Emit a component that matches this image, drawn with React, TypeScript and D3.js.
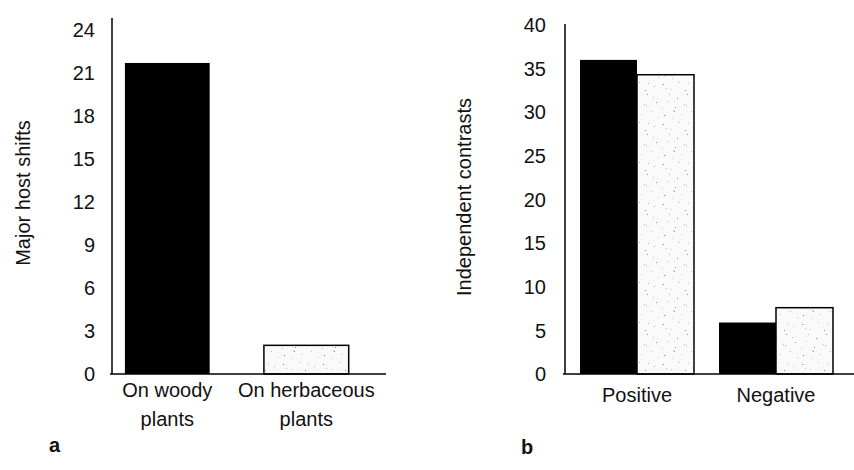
import React from "react";
import { scaleLinear, scaleBand } from "d3";

const hostCats = ["On woody plants", "On herbaceous plants"];
const hostValues = [21.7, 2.0];
const hostTicks = [0, 3, 6, 9, 12, 15, 18, 21, 24];

const contrastCats = ["Positive", "Negative"];
const contrastSeries = ["woody", "herbaceous"];
const woodyContrasts = [36.0, 5.9];
const herbContrasts = [34.3, 7.6];
const contrastTicks = [0, 5, 10, 15, 20, 25, 30, 35, 40];

const FONT = "'Liberation Sans', Arial, sans-serif";

// fixed speckle positions for the stippled fill
const dots = [
  [3, 4], [11, 9], [19, 2], [27, 14], [34, 6], [7, 21], [15, 27], [24, 24],
  [31, 31], [4, 35], [12, 38], [21, 34], [36, 22], [9, 14], [28, 3], [17, 18],
  [38, 37], [2, 28], [25, 10], [33, 17], [13, 30], [14, 31], [26, 25], [6, 8],
];

function Stipple() {
  return (
    <pattern id="stipple" width="40" height="40" patternUnits="userSpaceOnUse">
      <rect width="40" height="40" fill="#fafafa" />
      {dots.map(([x, y], i) => (
        <rect key={i} x={x} y={y} width="1" height="1" fill={i % 3 === 0 ? "#8e8e8e" : "#bdbdbd"} />
      ))}
    </pattern>
  );
}

function App() {
  const baseY = 374;

  // panel a
  const yA = scaleLinear().domain([0, 24]).range([baseY, 30]);
  const xA = scaleBand().domain(hostCats).range([111, 362.6]).paddingInner(0.39).paddingOuter(0.1);
  const axisA = 112;

  // panel b
  const yB = scaleLinear().domain([0, 40]).range([baseY, 25]);
  const xB = scaleBand().domain(contrastCats).range([565, 848]).paddingInner(0.18).paddingOuter(0.108);
  const xSub = scaleBand().domain(contrastSeries).range([0, xB.bandwidth()]);
  const axisB = 565;

  const bFills = ["#000", "url(#stipple)"];
  const bData = [woodyContrasts, herbContrasts];

  return (
    <svg width={854} height={470} style={{ position: "absolute", left: 0, top: 0, background: "#fff" }} fontFamily={FONT}>
      <defs>
        <Stipple />
      </defs>
      <rect width={854} height={470} fill="#fff" />

      {/* panel a */}
      <g>
        {hostTicks.map((t) => (
          <text key={t} x={95} y={yA(t)} dy="0.36em" textAnchor="end" fontSize={20} fill="#111">
            {t}
          </text>
        ))}
        <text transform={`translate(30,193) rotate(-90)`} textAnchor="middle" fontSize={20} fill="#111">
          Major host shifts
        </text>
        {hostCats.map((c, i) => (
          <rect
            key={c}
            x={xA(c)}
            y={yA(hostValues[i])}
            width={xA.bandwidth()}
            height={baseY - yA(hostValues[i])}
            fill={i === 0 ? "#000" : "url(#stipple)"}
            stroke="#000"
            strokeWidth={i === 0 ? 0 : 1.5}
          />
        ))}
        <line x1={axisA} x2={axisA} y1={18} y2={baseY} stroke="#000" strokeWidth={1.5} />
        <line x1={axisA - 2} x2={386} y1={baseY} y2={baseY} stroke="#000" strokeWidth={1.5} />
        {hostCats.map((c) => {
          const words = c.split(" ");
          const cx = xA(c)! + xA.bandwidth() / 2;
          return (
            <text key={c} x={cx} y={397} textAnchor="middle" fontSize={20} fill="#111">
              <tspan x={cx}>{words.slice(0, -1).join(" ")}</tspan>
              <tspan x={cx} dy={29}>{words[words.length - 1]}</tspan>
            </text>
          );
        })}
        <text x={49} y={452} fontSize={20} fontWeight="bold" fill="#111">
          a
        </text>
      </g>

      {/* panel b */}
      <g>
        {contrastTicks.map((t) => (
          <text key={t} x={546} y={yB(t)} dy="0.36em" textAnchor="end" fontSize={20} fill="#111">
            {t}
          </text>
        ))}
        <text transform={`translate(471,197) rotate(-90)`} textAnchor="middle" fontSize={20} fill="#111">
          Independent contrasts
        </text>
        {contrastCats.map((c, ci) => (
          <g key={c} transform={`translate(${xB(c)},0)`}>
            {contrastSeries.map((s, si) => {
              const v = bData[si][ci];
              return (
                <rect
                  key={s}
                  x={xSub(s)}
                  y={yB(v)}
                  width={xSub.bandwidth()}
                  height={baseY - yB(v)}
                  fill={bFills[si]}
                  stroke="#000"
                  strokeWidth={si === 0 ? 0 : 1.5}
                />
              );
            })}
          </g>
        ))}
        <line x1={axisB} x2={axisB} y1={24} y2={baseY} stroke="#000" strokeWidth={1.5} />
        <line x1={axisB - 2} x2={854} y1={baseY} y2={baseY} stroke="#000" strokeWidth={1.5} />
        {contrastCats.map((c) => (
          <text key={c} x={xB(c)! + xB.bandwidth() / 2} y={402} textAnchor="middle" fontSize={20} fill="#111">
            {c}
          </text>
        ))}
        <text x={521} y={454} fontSize={20} fontWeight="bold" fill="#111">
          b
        </text>
      </g>
    </svg>
  );
}

export default App;
